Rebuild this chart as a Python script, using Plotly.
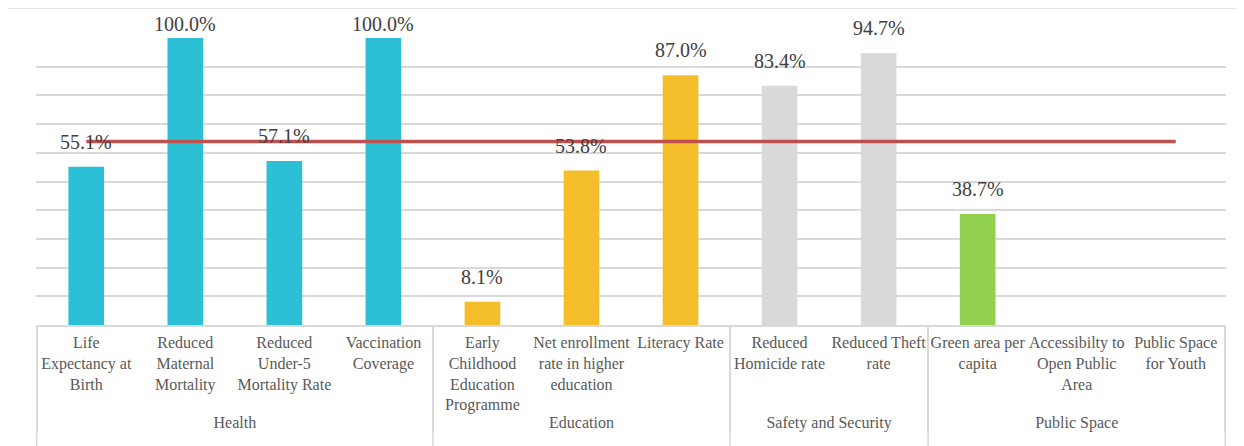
import plotly.graph_objects as go

groups = ["Health"] * 4 + ["Education"] * 3 + ["Safety and Security"] * 2 + ["Public Space"] * 3
categories = [
    "Life<br>Expectancy at<br>Birth",
    "Reduced<br>Maternal<br>Mortality",
    "Reduced<br>Under-5<br>Mortality Rate",
    "Vaccination<br>Coverage",
    "Early<br>Childhood<br>Education<br>Programme",
    "Net enrollment<br>rate in higher<br>education",
    "Literacy Rate",
    "Reduced<br>Homicide rate",
    "Reduced Theft<br>rate",
    "Green area per<br>capita",
    "Accessibilty to<br>Open Public<br>Area",
    "Public Space<br>for Youth",
]
values = [55.1, 100.0, 57.1, 100.0, 8.1, 53.8, 87.0, 83.4, 94.7, 38.7, 0.0, 0.0]
show_label = [True] * 10 + [False, False]
reference_value = 63.9
group_colors = {
    "Health": "#2CC0D7",
    "Education": "#F4BE2A",
    "Safety and Security": "#D9D9D9",
    "Public Space": "#92D050",
}

SERIF = "Liberation Serif"
GRID = "#D9D9D9"

bar_colors = [group_colors[g] for g in groups]
x = [groups, categories]

fig = go.Figure()
fig.add_trace(go.Bar(x=x, y=values, marker=dict(color=bar_colors, line=dict(width=0)),
                     showlegend=False, hoverinfo="y"))
fig.add_trace(go.Scatter(x=x, y=[reference_value] * len(values), mode="lines",
                         line=dict(color="#C0504D", width=3.5), showlegend=False))

for i, (v, s) in enumerate(zip(values, show_label)):
    if not s:
        continue
    fig.add_annotation(x=i, y=v, xref="x", yref="y", text=f"{v:.1f}%", showarrow=False,
                       yanchor="bottom", yshift=(1 if v >= 99 else 12),
                       font=dict(family=SERIF, size=20, color="#404040"))

# group boundaries (extend the category dividers down to the bottom edge)
boundaries = [-0.5] + [i + 0.5 for i in range(len(groups) - 1) if groups[i] != groups[i + 1]] + [len(groups) - 0.5]
for b in boundaries:
    fig.add_shape(type="line", xref="x", yref="paper", x0=b, x1=b, y0=0, y1=-0.45,
                  line=dict(color=GRID, width=1.5), layer="below")

fig.add_shape(type="rect", xref="paper", yref="paper", x0=-0.0244, x1=1.0092, y0=-0.45, y1=1.1045,
              line=dict(color=GRID, width=1.5), fillcolor="rgba(0,0,0,0)", layer="below")

fig.update_layout(
    width=1236, height=438,
    margin=dict(l=28, r=18, t=30, b=121, autoexpand=False),
    paper_bgcolor="white", plot_bgcolor="white",
    bargap=0.64,
    font=dict(family=SERIF, size=16, color="#595959"),
    xaxis=dict(type="multicategory", showline=True, linecolor=GRID, linewidth=1.5,
               showgrid=False, tickangle=0, showdividers=True, dividercolor=GRID,
               dividerwidth=1.5, ticks="", ticklabelstandoff=2,
               tickfont=dict(family=SERIF, size=16, color="#595959")),
    yaxis=dict(range=[0, 100], dtick=10, showgrid=True, gridcolor=GRID, gridwidth=1.5,
               showticklabels=False, zeroline=False, showline=False),
)

fig.write_html("out.html")
